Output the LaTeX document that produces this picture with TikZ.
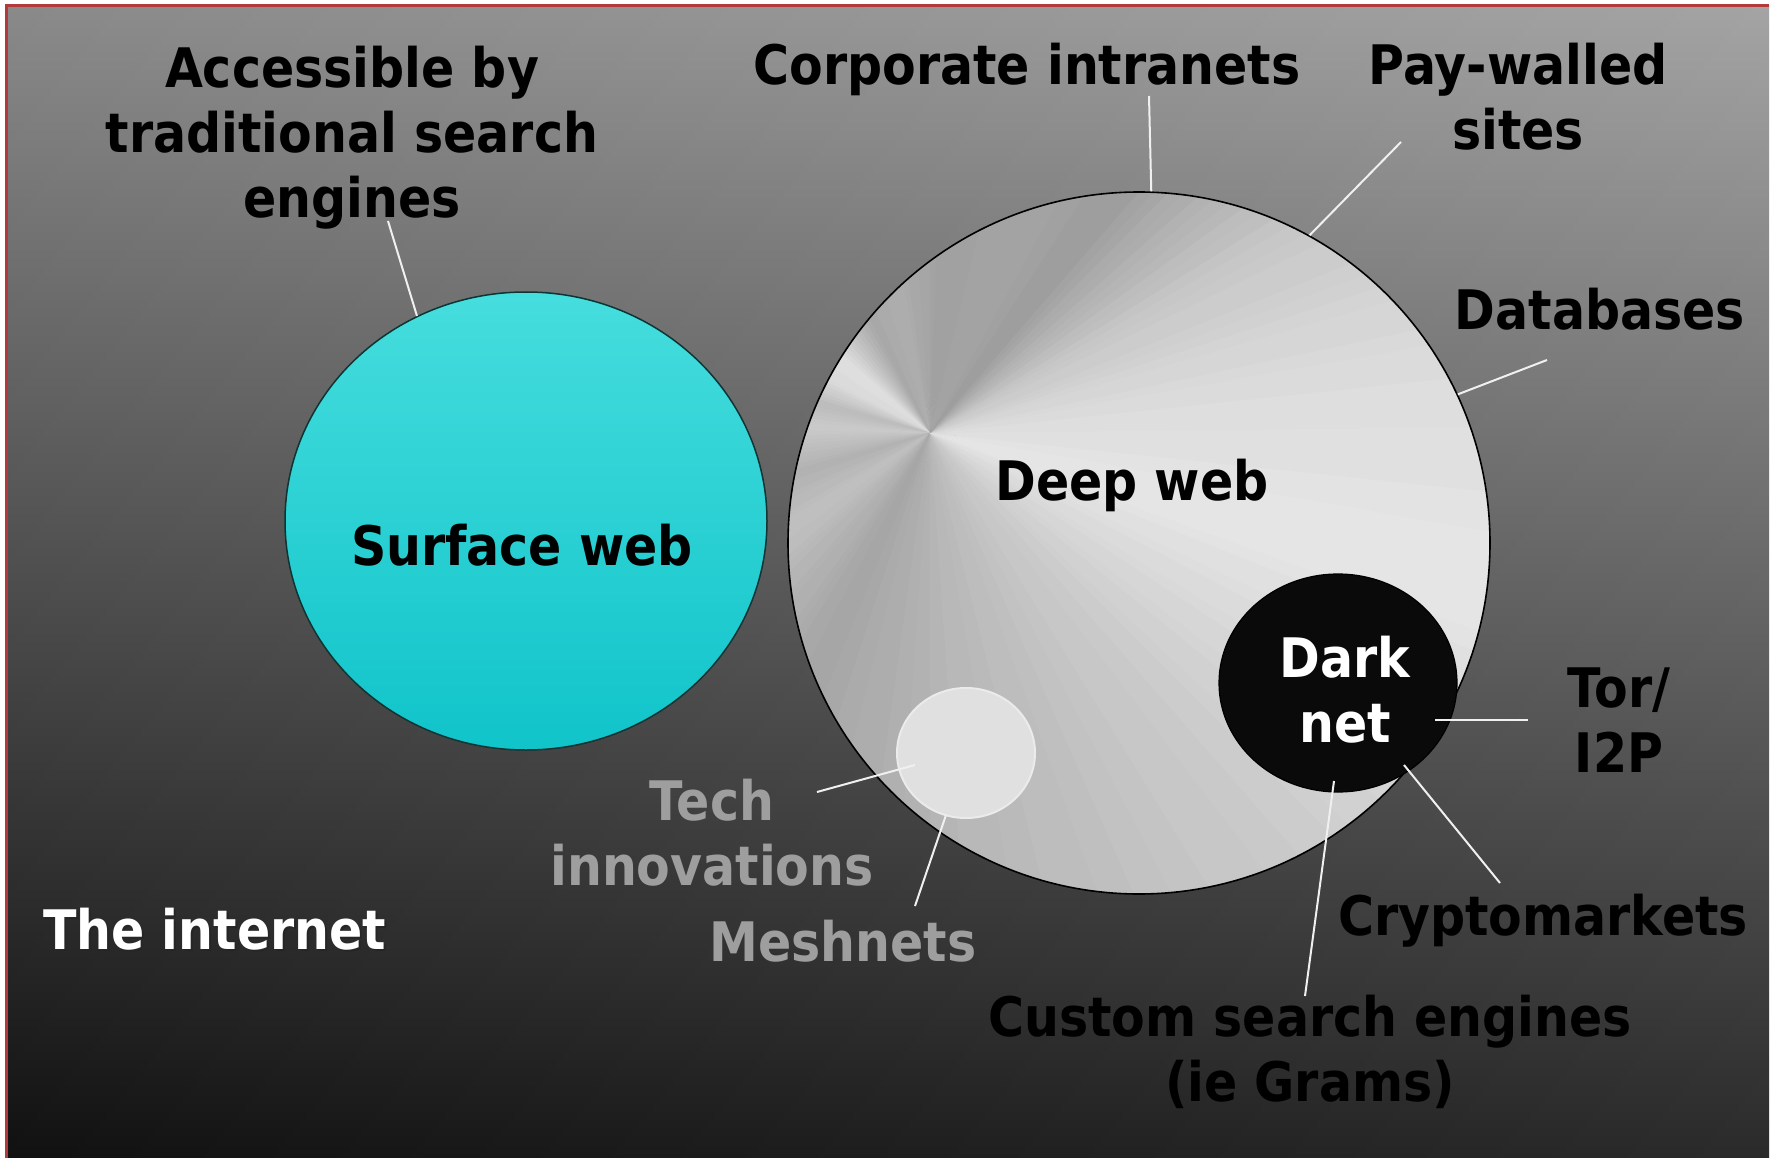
\documentclass[tikz,border=0pt]{standalone}
\usepackage{fontspec}
\setmainfont{DejaVu Sans}[FakeStretch=0.9]
\usetikzlibrary{shapes.geometric}
\definecolor{bgtop}{HTML}{9A9A9A}
\definecolor{bgmid}{HTML}{646464}
\definecolor{bgbot}{HTML}{131313}
\definecolor{cyantop}{HTML}{46DDDD}
\definecolor{cyanbot}{HTML}{10C4CA}
\definecolor{cyanedge}{HTML}{0E3434}
\definecolor{labgray}{HTML}{9E9E9E}
\definecolor{connc}{HTML}{F0F0F0}
\definecolor{framec}{HTML}{B23A3A}
\definecolor{techfill}{HTML}{E0E0E0}
\definecolor{darkfill}{HTML}{0A0A0A}
\newcommand\mlines[1]{\begin{tabular}[t]{@{}c@{}}#1\end{tabular}}
\begin{document}
\begin{tikzpicture}[x=1pt,y=-1pt,
  lbl/.style={font=\bfseries\fontsize{54.5}{65}\selectfont, inner sep=0, anchor=base, text=black},
  conn/.style={draw=connc, line width=2},
  bubble/.style={ellipse, inner sep=0}]
\useasboundingbox (0,0) rectangle (1775,1158);
\fill[white] (0,0) rectangle (1775,1158);
% background
\shade[top color=bgtop, middle color=bgmid, bottom color=bgbot] (6,6) rectangle (1769,1158);
\shade[left color=black, right color=white, opacity=0.10] (6,6) rectangle (1769,1158);
\draw[framec, line width=3] (6,1158) -- (6,6) -- (1769,6);
% surface web
\node[bubble, minimum width=482, minimum height=458, draw=cyanedge, line width=1.5,
      top color=cyantop, bottom color=cyanbot] (surf) at (526,521) {};
% deep web (conic shading)
\coordinate (P) at (930,433);
\begin{scope}
\clip (1139,543) circle[radius=351];
\fill[white!80!black] (1139,543) circle[radius=352];
\foreach \sa/\sb/\ga/\gb in {0/10/88/86, 10/30/86/78, 30/51/78/62, 51/67/62/65, 67/84/65/63,
   84/104/63/69, 104/118/69/66, 118/140/66/88, 140/152/88/86, 152/165/86/74, 165/177/74/80,
   177/197/80/70, 197/215/70/76, 215/244/76/65, 244/270/65/71, 270/290/71/75, 290/315/75/81,
   315/344/81/91, 344/360/91/88} {
  \pgfmathtruncatemacro\n{max(1,round((\sb-\sa)/2))}
  \foreach \k in {1,...,\n} {
    \pgfmathsetmacro\ta{\sa+(\k-1)*(\sb-\sa)/\n}
    \pgfmathsetmacro\tb{\sa+\k*(\sb-\sa)/\n+0.6}
    \pgfmathtruncatemacro\g{\ga+(\gb-\ga)*(\k-0.5)/\n}
    \fill[white!\g!black] (P) -- +(-\ta:900) -- +(-\tb:900) -- cycle;
  }
}
\end{scope}
\node[circle, minimum size=702, inner sep=0, draw=black, line width=1.6] (deep) at (1139,543) {};
% dark net
\node[bubble, minimum width=238, minimum height=218, fill=darkfill, draw=black, line width=1.2] (dark) at (1338,683) {};
% tech innovations bubble
\node[bubble, minimum width=138, minimum height=130, fill=techfill, draw=white!92!black, line width=2] (tech) at (966,753) {};
% connector ends
\coordinate (accE) at (388,221);
\coordinate (corpE) at (1149,96);
\coordinate (payE) at (1401,142);
\coordinate (dbE) at (1547,360);
\coordinate (torE) at (1528,720);
\coordinate (torD) at (1435,720);
\coordinate (cryE) at (1500,883);
\coordinate (cryD) at (1404,765);
\coordinate (cusE) at (1305,996);
\coordinate (cusD) at (1334,781);
\coordinate (tecE) at (817,792);
\coordinate (tecD) at (915,765);
\coordinate (mesE) at (915,906);
\coordinate (mesD) at (946,815);
\draw[conn] (accE) -- (surf.118);
\draw[conn] (corpE) -- (deep.88);
\draw[conn] (payE) -- (deep.61);
\draw[conn] (dbE) -- (deep.25);
\draw[conn] (torE) -- (torD);
\draw[conn] (cryE) -- (cryD);
\draw[conn] (cusE) -- (cusD);
\draw[conn] (tecE) -- (tecD);
\draw[conn] (mesE) -- (mesD);
% labels
\node[lbl] (acc) at (352,88) {\mlines{Accessible by\\traditional search\\engines}};
\node[lbl] (corp) at (1027,85) {Corporate intranets};
\node[lbl] (pay) at (1518,85) {\mlines{Pay-walled\\sites}};
\node[lbl] (db) at (1600,330) {Databases};
\node[lbl] (deepL) at (1132,500) {Deep web};
\node[lbl] (surfL) at (522,565) {Surface web};
\node[lbl, text=white] (darkL) at (1345,677) {\mlines{Dark\\net}};
\node[lbl] (tor) at (1619,707) {\mlines{Tor/\\I2P}};
\node[lbl, text=labgray] (techL) at (712,820) {\mlines{Tech\\innovations}};
\node[lbl, text=labgray] (mesh) at (843,961) {Meshnets};
\node[lbl, text=black!85, anchor=base west] (intS) at (45,951) {The internet};
\node[lbl, text=white, anchor=base west] (int) at (43,949) {The internet};
\node[lbl] (cry) at (1543,935) {Cryptomarkets};
\node[lbl] (cus) at (1310,1036) {\mlines{Custom search engines\\(ie Grams)}};
\end{tikzpicture}
\end{document}
